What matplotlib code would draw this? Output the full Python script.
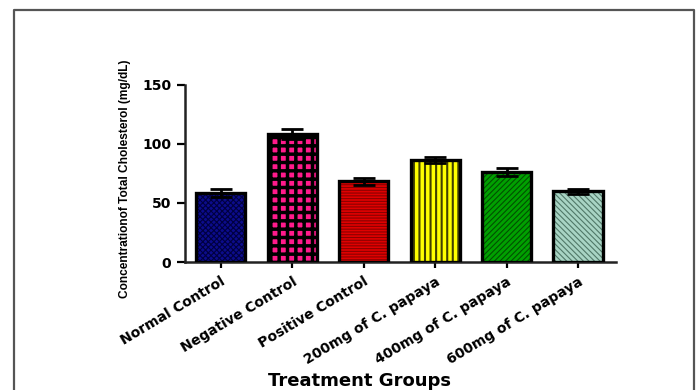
import matplotlib
matplotlib.use("Agg")
import matplotlib.pyplot as plt
from matplotlib.lines import Line2D
import numpy as np

categories = ["Normal Control", "Negative Control", "Positive Control",
              "200mg of C. papaya", "400mg of C. papaya", "600mg of C. papaya"]
means = [58.5, 108.5, 68.5, 86.5, 76.5, 60.0]
errors = [3.5, 4.0, 3.0, 2.5, 3.4, 2.0]
yticks = [0, 50, 100, 150]

fill_colors = ["#0c0c8c", "#ff1a8c", "#e00000", "#ffff00", "#00a000", "#a8d4c4"]
hatch_colors = ["#000040", "#000000", "#8a0000", "#404000", "#005000", "#507868"]
hatches = ["xxxxxx", "++", "------", "|||", "//////", "\\\\\\\\\\\\"]
hatch_lws = [0.8, 2.5, 0.8, 1.5, 0.8, 0.8]

fig = plt.figure(figsize=(6.98, 3.90), dpi=100)
ax = fig.add_axes([185/698, 1-262/390, (616-185)/698, (262-85)/390])

x = np.arange(len(categories))
width = 0.69
for i in range(len(categories)):
    plt.rcParams['hatch.linewidth'] = hatch_lws[i]
    b = ax.bar(x[i], means[i], width=width, color=fill_colors[i],
               edgecolor=hatch_colors[i], hatch=hatches[i], linewidth=0, zorder=2)
    for p in b:
        if hasattr(p, "set_hatch_linewidth"):
            p.set_hatch_linewidth(hatch_lws[i])
ax.bar(x, means, width=width, fill=False, edgecolor="black", linewidth=2.4, zorder=3)
ax.errorbar(x, means, yerr=errors, fmt="none", ecolor="black", elinewidth=2,
            capsize=8, capthick=2, zorder=4)

ax.set_xlim(-0.5, 5.53)
ax.set_ylim(0, 150)
ax.set_yticks(yticks)
ax.set_xticks(x)
ax.set_xticklabels(categories, rotation=31, ha="right", va="top",
                   rotation_mode="anchor", fontsize=10, fontweight="bold",
                   family="DejaVu Sans")
for lab in ax.get_yticklabels():
    lab.set_fontsize(10)
    lab.set_fontweight("bold")
ax.tick_params(axis="y", direction="out", length=6, width=1.6, pad=4)
ax.tick_params(axis="x", direction="out", length=4, width=1.6, pad=5)
for s in ["top", "right"]:
    ax.spines[s].set_visible(False)
for s in ["left", "bottom"]:
    ax.spines[s].set_linewidth(1.8)
    ax.spines[s].set_color("#222222")

ax.set_ylabel("Concentrationof Total Cholesterol (mg/dL)", fontsize=8.6,
              fontweight="bold", family="Liberation Sans")
ax.yaxis.set_label_coords((131-185)/431, 0.47)
fig.text(359/698, 1-381/390, "Treatment Groups", ha="center", va="center",
         fontsize=13, fontweight="bold", family="DejaVu Sans")

# figure frame (bottom edge cropped)
bc = "#555555"
x0, x1, yt = 14/698, 694/698, 1-10/390
fig.add_artist(Line2D([x0, x0, x1, x1], [-0.05, yt, yt, -0.05],
                      transform=fig.transFigure, color=bc, linewidth=1.6))

fig.savefig("out.png", dpi=100)
